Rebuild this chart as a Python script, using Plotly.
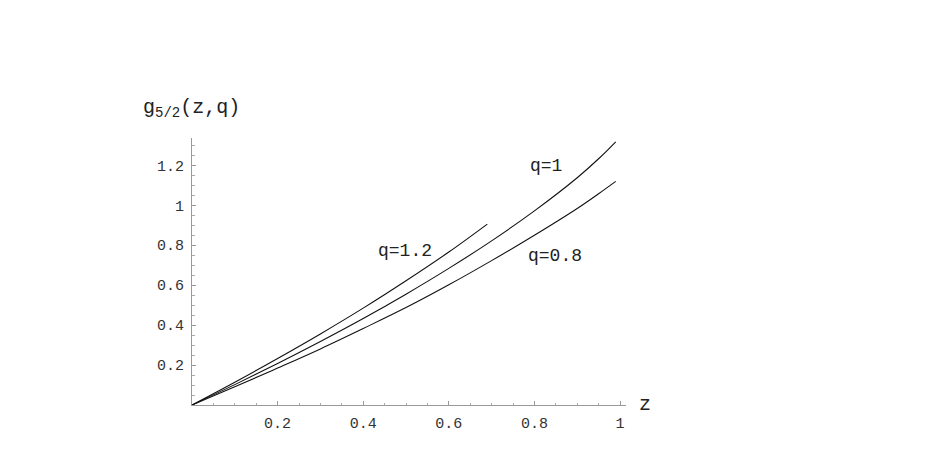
import plotly.graph_objects as go

# Values
z_full = [0, 0.1, 0.2, 0.3, 0.4, 0.5, 0.6, 0.7, 0.8, 0.9, 0.95, 0.99]
g_q1 = [0, 0.102, 0.208, 0.318, 0.433, 0.555, 0.684, 0.822, 0.972, 1.138, 1.233, 1.318]
g_q08 = [0, 0.091, 0.185, 0.281, 0.383, 0.488, 0.602, 0.723, 0.850, 0.984, 1.058, 1.120]
z_q12 = [0, 0.1, 0.2, 0.3, 0.4, 0.5, 0.6, 0.69]
g_q12 = [0, 0.114, 0.233, 0.356, 0.485, 0.622, 0.766, 0.906]

x_ticks = [0.2, 0.4, 0.6, 0.8, 1.0]
x_ticktext = ["0.2", "0.4", "0.6", "0.8", "1"]
y_ticks = [0.2, 0.4, 0.6, 0.8, 1.0, 1.2]
y_ticktext = ["0.2", "0.4", "0.6", "0.8", "1", "1.2"]

MONO = "Liberation Mono, Courier New, monospace"

fig = go.Figure()
for xs, ys in [(z_q12, g_q12), (z_full, g_q1), (z_full, g_q08)]:
    fig.add_trace(go.Scatter(x=xs, y=ys, mode="lines",
                             line=dict(color="#111", width=1.1, shape="spline"),
                             showlegend=False, hoverinfo="skip"))

axis_common = dict(showgrid=False, zeroline=False, showline=True,
                   linecolor="#999999", linewidth=1,
                   ticks="inside", ticklen=4, tickcolor="#999999", tickwidth=1,
                   ticklabelstandoff=4,
                   tickfont=dict(family=MONO, size=15, color="#333"),
                   minor=dict(ticks="inside", ticklen=2.5, dtick=0.05,
                              tickcolor="#aaaaaa", showgrid=False))

fig.update_xaxes(range=[0, 1.014], tickvals=x_ticks, ticktext=x_ticktext,
                 **axis_common)
fig.update_yaxes(range=[0, 1.337], tickvals=y_ticks, ticktext=y_ticktext,
                 **axis_common)

ann_font = dict(family=MONO, size=18, color="#222")
fig.add_annotation(x=0.827, y=1.197, text="q=1", showarrow=False, font=ann_font)
fig.add_annotation(x=0.498, y=0.771, text="q=1.2", showarrow=False, font=ann_font)
fig.add_annotation(x=0.848, y=0.746, text="q=0.8", showarrow=False, font=ann_font)
fig.add_annotation(xref="paper", yref="paper", x=(637 - 184) / 434, y=(397 - 396) / 267,
                   xanchor="center", yanchor="middle",
                   text="z", showarrow=False,
                   font=dict(family=MONO, size=20, color="#222"))
fig.add_annotation(xref="paper", yref="paper", x=(183 - 184) / 434, y=(397 - 101) / 267,
                   xanchor="center", yanchor="middle",
                   text="g<sub>5/2</sub>(z,q)", showarrow=False,
                   font=dict(family=MONO, size=20, color="#222"))

fig.update_layout(width=928, height=469,
                  margin=dict(l=184, r=310, t=130, b=72),
                  paper_bgcolor="white", plot_bgcolor="white")

fig.write_html("out.html")
